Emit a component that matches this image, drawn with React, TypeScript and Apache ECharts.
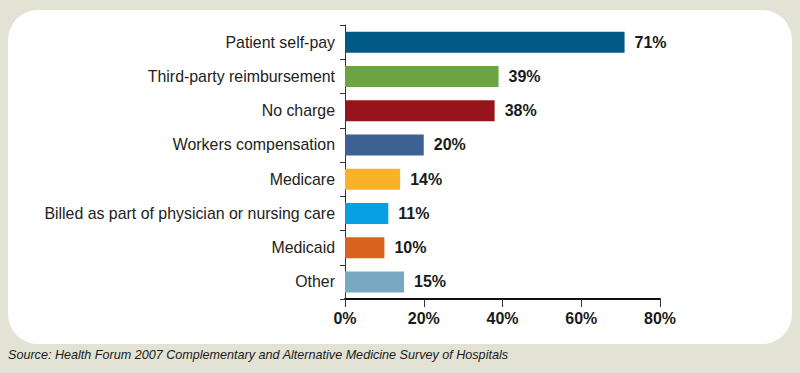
import React, { useEffect, useRef } from "react";
import * as echarts from "echarts";

const categories = [
  "Patient self-pay",
  "Third-party reimbursement",
  "No charge",
  "Workers compensation",
  "Medicare",
  "Billed as part of physician or nursing care",
  "Medicaid",
  "Other",
];
const values = [71, 39, 38, 20, 14, 11, 10, 15];
const barColors = [
  "#005a84",
  "#6ca442",
  "#98141d",
  "#3e6194",
  "#fdb02a",
  "#05a0e4",
  "#d9621f",
  "#78a9c3",
];
const xTicks = [0, 20, 40, 60, 80];
const sourceText =
  "Source: Health Forum 2007 Complementary and Alternative Medicine Survey of Hospitals";

export default function App() {
  const ref = useRef<HTMLDivElement>(null);
  useEffect(() => {
    if (!ref.current) return;
    const chart = echarts.init(ref.current, null, { renderer: "svg" });
    const font = "Liberation Sans, Arial, Helvetica, sans-serif";
    chart.setOption({
      animation: false,
      backgroundColor: "#e2e2d5",
      graphic: [
        {
          type: "rect",
          left: 8,
          top: 10,
          z: -10,
          shape: { width: 784, height: 334, r: 30 },
          style: { fill: "#ffffff" },
        },
        {
          type: "text",
          left: 8,
          top: 348,
          style: {
            text: sourceText,
            fontFamily: font,
            fontStyle: "italic",
            fontSize: 12.6,
            fill: "#1a1a1a",
          },
        },
      ],
      grid: { left: 345, right: 140, top: 25, bottom: 74, containLabel: false },
      xAxis: {
        type: "value",
        min: xTicks[0],
        max: xTicks[xTicks.length - 1],
        interval: 20,
        splitLine: { show: false },
        axisLine: { show: true, lineStyle: { color: "#111", width: 2 } },
        axisTick: { show: true, length: 8, lineStyle: { color: "#333", width: 1 } },
        axisLabel: {
          formatter: "{value}%",
          fontFamily: font,
          fontSize: 16,
          fontWeight: "bold",
          color: "#1a1a1a",
          margin: 11,
        },
      },
      yAxis: {
        type: "category",
        inverse: true,
        data: categories,
        axisLine: { show: true, lineStyle: { color: "#333", width: 1 } },
        axisTick: { show: true, length: 5, lineStyle: { color: "#333" } },
        axisLabel: {
          fontFamily: font,
          fontSize: 15.9,
          color: "#222",
          margin: 10,
        },
      },
      series: [
        {
          type: "bar",
          data: values.map((v, i) => ({
            value: v,
            itemStyle: { color: barColors[i] },
          })),
          barWidth: 21,
          label: {
            show: true,
            position: "right",
            distance: 10,
            formatter: "{c}%",
            fontFamily: font,
            fontSize: 16,
            fontWeight: "bold",
            color: "#1a1a1a",
          },
        },
      ],
    });
    return () => chart.dispose();
  }, []);
  return (
    <div
      ref={ref}
      style={{ position: "fixed", left: 0, top: 0, width: 800, height: 373 }}
    />
  );
}
